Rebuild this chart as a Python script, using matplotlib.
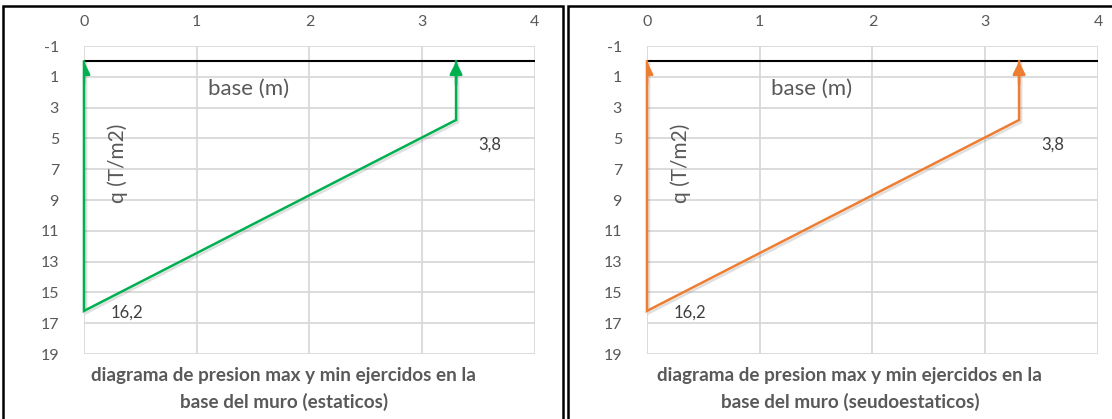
import matplotlib
matplotlib.use("Agg")
import matplotlib.pyplot as plt
import matplotlib.patheffects as pe
from matplotlib.patches import Rectangle

plt.rcParams['font.family'] = ['Lato', 'DejaVu Sans']
plt.rcParams['axes.unicode_minus'] = False

# datos del diagrama de presiones
base_m = [0, 0, 3.3, 3.3]
q_tm2 = [0, 16.2, 3.8, 0]
q_max_label = "16,2"
q_min_label = "3,8"
x_ticks = [0, 1, 2, 3, 4]
y_ticks = [-1, 1, 3, 5, 7, 9, 11, 13, 15, 17, 19]
titulos = ["diagrama de presion max y min ejercidos en la\nbase del muro (estaticos)",
           "diagrama de presion max y min ejercidos en la\nbase del muro (seudoestaticos)"]
colores = ["#00B050", "#ED7D31"]

gris = "#595959"

fig = plt.figure(figsize=(11.12, 4.19), dpi=100)

# marcos de cada grafico
marcos = [(0.0027, 0.5036), (0.5108, 0.52)]
for x0, w in marcos:
    fig.patches.append(Rectangle((x0, -0.02), w, 1.0057, transform=fig.transFigure,
                                 fill=False, edgecolor="black", lw=1.8))

posiciones = [0.0755, 0.5818]
centro_titulo = [0.443, 0.45]
for i in range(2):
    ax = fig.add_axes([posiciones[i], 0.155, 0.4056, 0.735])
    ax.set_xlim(0, 4)
    ax.set_ylim(19, -1)
    ax.set_xticks(x_ticks)
    ax.set_yticks(y_ticks)
    ax.xaxis.tick_top()
    ax.tick_params(length=0, labelsize=11.5, labelcolor=gris)
    ax.tick_params(axis="x", pad=12)
    ax.tick_params(axis="y", pad=18)
    for s in ax.spines.values():
        s.set_visible(False)
    ax.grid(True, color="#D9D9D9", lw=1.3)
    ax.set_axisbelow(True)

    # linea de la base
    ax.plot([0, 4], [0, 0], color="black", lw=1.5, zorder=3)

    sombra = [pe.SimpleLineShadow(offset=(1.5, -1.5), shadow_color="gray", alpha=0.25), pe.Normal()]
    ax.plot(base_m, q_tm2, color=colores[i], lw=1.8, zorder=4, path_effects=sombra,
            clip_on=False, solid_joinstyle="miter")
    # flechas en los extremos
    for a in [0, 3]:
        ann = ax.annotate("", xy=(base_m[a], q_tm2[a]), xytext=(base_m[a], q_tm2[a] + 1.5),
                          arrowprops=dict(arrowstyle="-|>", color=colores[i], lw=1.8,
                                          mutation_scale=19, shrinkA=0, shrinkB=0),
                          zorder=5)
        ann.arrow_patch.set_clip_box(ax.bbox)
        ann.arrow_patch.set_clip_on(True)

    ax.text(1.46, 1.8, "base (m)", fontsize=16, color=gris, ha="center", va="center")
    ax.text(0.3, 6.6, "q (T/m2)", fontsize=15, color=gris, rotation=90, ha="center", va="center")
    ax.text(3.6, 5.4, q_min_label, fontsize=12, color="#404040", ha="center", va="center")
    ax.text(0.38, 16.3, q_max_label, fontsize=12, color="#404040", ha="center", va="center")

    ax.set_xlabel(titulos[i], fontsize=13.6, fontweight="bold", color=gris, labelpad=9,
                  linespacing=1.65, multialignment="center")
    ax.xaxis.label.set_x(centro_titulo[i])

fig.savefig("out.png", dpi=100)
